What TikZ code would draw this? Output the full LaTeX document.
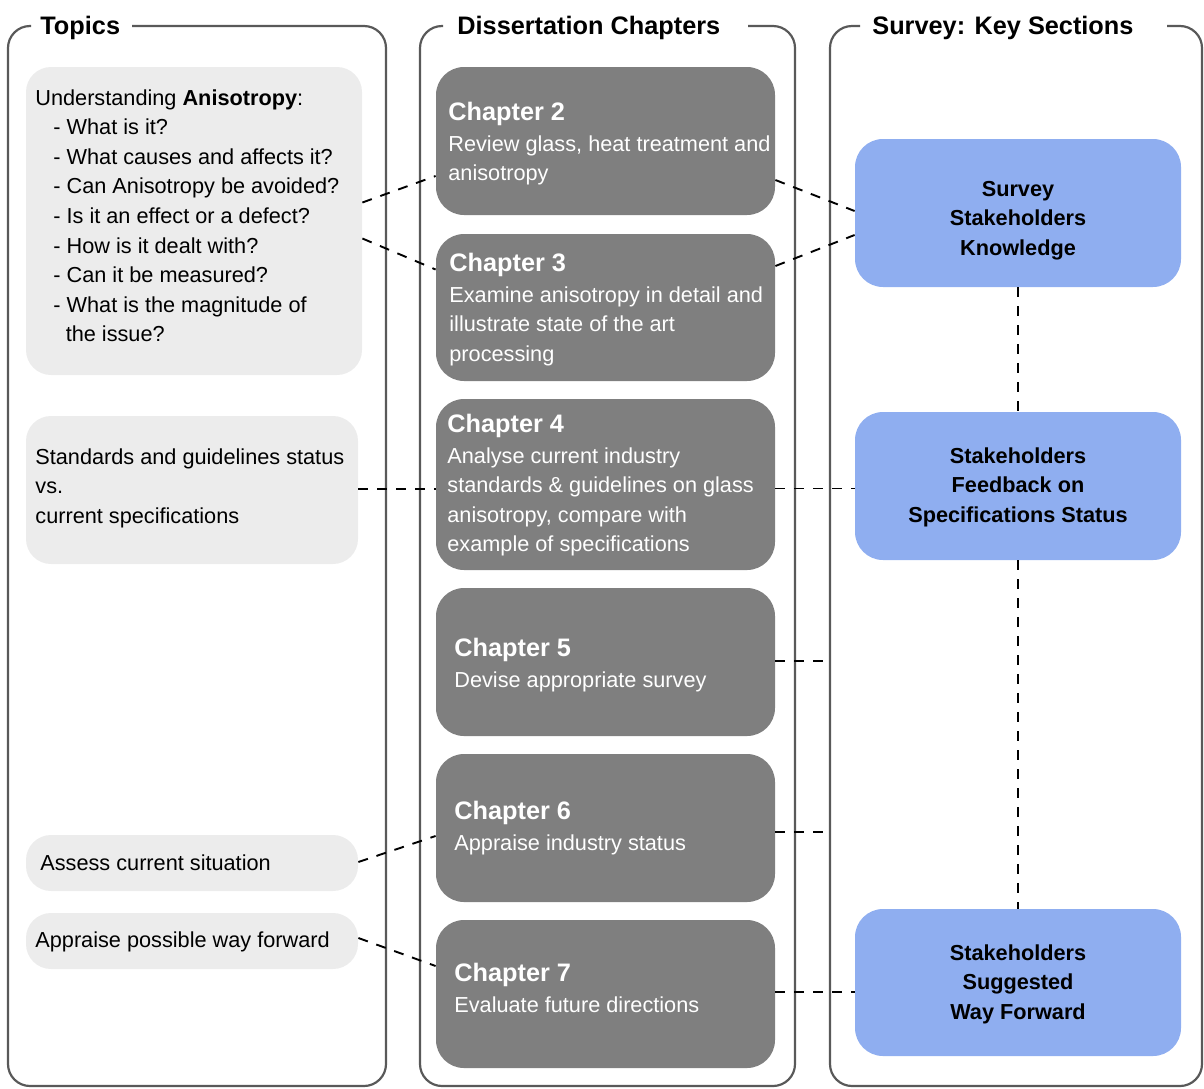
\documentclass[tikz,border=0pt]{standalone}
\usepackage{fontspec}
\setmainfont{Liberation Sans}
\usetikzlibrary{calc,fit}

\definecolor{framegray}{RGB}{89,89,89}
\definecolor{topicfill}{RGB}{236,236,236}
\definecolor{chapfill}{RGB}{127,127,127}
\definecolor{survfill}{RGB}{143,174,240}

\newcommand{\bodyfont}{\fontsize{10.85}{14.8}\selectfont}
\newcommand{\headfont}{\fontsize{12.65}{15}\selectfont\bfseries}
% left-aligned block of lines, anchored on the baseline of its first line
\newcommand{\leftlines}[1]{\parbox[t]{200pt}{\raggedright\bodyfont #1}}
% centred block of bold lines
\newcommand{\midlines}[1]{\parbox[t]{150pt}{\centering\bodyfont\bfseries #1}}

\begin{document}
\begin{tikzpicture}[x=0.5pt,y=-0.5pt,
  frame/.style={draw=framegray,line width=1.1pt,rounded corners=11pt},
  topicbox/.style={fill=topicfill,rounded corners=12.5pt,inner sep=0pt},
  chapbox/.style={fill=chapfill,rounded corners=14pt,inner sep=0pt},
  survbox/.style={fill=survfill,rounded corners=14pt,inner sep=0pt},
  title/.style={anchor=base west,inner sep=0pt,font=\headfont},
  topictxt/.style={anchor=base west,inner sep=0pt},
  chaptxt/.style={anchor=base west,inner sep=0pt,text=white},
  survtxt/.style={anchor=base,inner sep=0pt},
  link/.style={draw=black,line width=0.95pt,dash pattern=on 5pt off 4.5pt}
]
\useasboundingbox (0,0) rectangle (1204,1088);

% column frames, open at the top where the titles sit
\draw[frame] (132,26) -- (386,26) -- (386,1086) -- (8,1086) -- (8,26) -- (31,26);
\draw[frame] (748,26) -- (795,26) -- (795,1086) -- (420,1086) -- (420,26) -- (443,26);
\draw[frame] (1167,26) -- (1202,26) -- (1202,1086) -- (830,1086) -- (830,26) -- (860,26);
\coordinate (sl) at (830,600);

\node[title] (ttopics) at (40,34) {Topics};
\node[title] (tchapters) at (457,34) {Dissertation Chapters};
\node[title] (tsurvey) at (872,34) {Survey: Key Sections};

% topics
\node[topicbox,fit={(26,67)(362,375)}] (t1) {};
\node[topicbox,fit={(26,416)(358,564)}] (t2) {};
\node[topicbox,fit={(26,835)(358,891)}] (t3) {};
\node[topicbox,fit={(26,913)(358,969)}] (t4) {};

\node[topictxt] (t1t) at (35,105) {\leftlines{Understanding \textbf{Anisotropy}:\\
  \hspace*{9pt}- What is it?\\
  \hspace*{9pt}- What causes and affects it?\\
  \hspace*{9pt}- Can Anisotropy be avoided?\\
  \hspace*{9pt}- Is it an effect or a defect?\\
  \hspace*{9pt}- How is it dealt with?\\
  \hspace*{9pt}- Can it be measured?\\
  \hspace*{9pt}- What is the magnitude of\\
  \hspace*{15.2pt}the issue?}};
\node[topictxt] (t2t) at (35,464) {\leftlines{Standards and guidelines status\\ vs.\\ current specifications}};
\node[topictxt] (t3t) at (40,870) {\leftlines{Assess current situation}};
\node[topictxt] (t4t) at (35,947) {\leftlines{Appraise possible way forward}};

% chapters
\node[chapbox,fit={(436,67)(775,215)}] (ch2) {};
\node[chapbox,fit={(436,234)(775,381)}] (ch3) {};
\node[chapbox,fit={(436,399)(775,570)}] (ch4) {};
\node[chapbox,fit={(436,588)(775,736)}] (ch5) {};
\node[chapbox,fit={(436,754)(775,902)}] (ch6) {};
\node[chapbox,fit={(436,920)(775,1068)}] (ch7) {};

\node[chaptxt] (ch2t) at (448,120) {\leftlines{{\headfont Chapter 2}\\[0.7pt]
  Review glass, heat treatment and\\ anisotropy}};
\node[chaptxt] (ch3t) at (449,271) {\leftlines{{\headfont Chapter 3}\\[0.7pt]
  Examine anisotropy in detail and\\ illustrate state of the art\\ processing}};
\node[chaptxt] (ch4t) at (447,432) {\leftlines{{\headfont Chapter 4}\\[0.7pt]
  Analyse current industry\\ standards \& guidelines on glass\\ anisotropy, compare with\\ example of specifications}};
\node[chaptxt] (ch5t) at (454,656) {\leftlines{{\headfont Chapter 5}\\[0.7pt]
  Devise appropriate survey}};
\node[chaptxt] (ch6t) at (454,819) {\leftlines{{\headfont Chapter 6}\\[0.7pt]
  Appraise industry status}};
\node[chaptxt] (ch7t) at (454,981) {\leftlines{{\headfont Chapter 7}\\[0.7pt]
  Evaluate future directions}};

% survey sections
\node[survbox,fit={(855,139)(1181,287)}] (s1) {};
\node[survbox,fit={(855,412)(1181,560)}] (s2) {};
\node[survbox,fit={(855,909)(1181,1056)}] (s3) {};

\node[survtxt] (s1t) at (1018,196) {\midlines{Survey\\ Stakeholders\\ Knowledge}};
\node[survtxt] (s2t) at (1018,463) {\midlines{Stakeholders\\ Feedback on\\ Specifications Status}};
\node[survtxt] (s3t) at (1018,960) {\midlines{Stakeholders\\ Suggested\\ Way Forward}};

% links between topics and chapters
\draw[link] ($(t1.east)+(0,-18.5)$) -- ($(ch2.west)+(0,35)$);
\draw[link] ($(t1.east)+(0,17.5)$) -- ($(ch3.west)+(0,-38)$);
\draw[link] ($(t2.east)+(0,-1)$) -- ($(ch4.west)+(0,4.5)$);
\draw[link] ($(t3.east)+(0,-1)$) -- ($(ch6.west)+(0,8)$);
\draw[link] ($(t4.east)+(0,-3)$) -- ($(ch7.west)+(0,-28)$);

% links between chapters and survey sections
\coordinate (c5) at ($(ch5.east)+(0,-1)$);
\coordinate (c6) at ($(ch6.east)+(0,4)$);
\draw[link] ($(ch2.east)+(0,39)$) -- ($(s1.west)+(0,-2)$);
\draw[link] ($(ch3.east)+(0,-41.5)$) -- ($(s1.west)+(0,22)$);
\draw[link] ($(ch4.east)+(0,4)$) -- ($(s2.west)+(0,2.5)$);
\draw[link] (c5) -- (c5 -| sl);
\draw[link] (c6) -- (c6 -| sl);
\draw[link] ($(ch7.east)+(0,-2)$) -- ($(s3.west)+(0,9.5)$);

% survey sequence
\draw[link] (s1.south) -- (s2.north);
\draw[link] (s2.south) -- (s3.north);
\end{tikzpicture}
\end{document}
